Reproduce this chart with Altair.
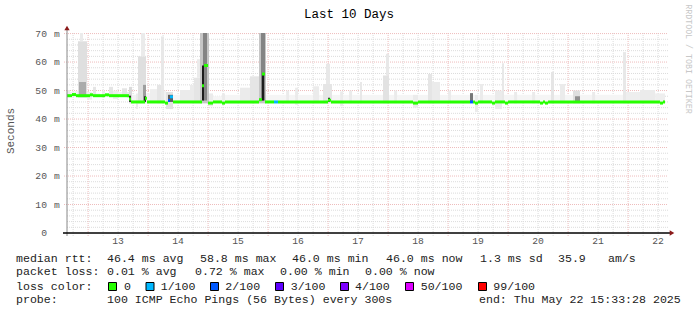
import altair as alt
import pandas as pd

# ---------------- data (time in days; 13.0 = 13 May 00:00) ----------------
T_START, T_END = 12.648, 22.648
T_LAST = 22.615

# median rtt segments (start time, value in ms, loss class)
med_start = [12.648, 12.731, 12.798, 13.031, 13.081, 13.281, 13.348, 13.681, 13.715, 13.948,
             13.981, 14.281, 14.331, 14.365, 14.415, 14.898, 14.931, 14.998, 15.081, 15.231,
             15.281, 15.848, 15.898, 15.948, 16.098, 16.165, 16.998, 17.048, 18.415, 18.498,
             19.365, 19.415, 19.448, 19.498, 19.731, 19.781, 19.948, 19.998, 20.531, 20.581,
             20.615, 20.665, 22.531, 22.581]
med_value = [48.2, 48.6, 48.2, 48.5, 48.2, 48.5, 48.2, 47.0, 46.0, 47.3,
             46.0, 45.6, 46.5, 47.8, 46.0, 51.7, 58.8, 45.6, 46.0, 45.6,
             46.0, 46.8, 55.8, 46.0, 46.0, 46.0, 46.6, 46.0, 45.6, 46.0,
             46.0, 46.0, 45.6, 46.0, 45.6, 46.0, 45.6, 46.0, 45.6, 46.0,
             45.6, 46.0, 45.6, 46.0]
med_loss = ["0", "0", "0", "0", "0", "0", "0", "0", "0", "0",
            "0", "0", "2/100", "1/100", "0", "0", "0", "0", "0", "0",
            "0", "0", "0", "0", "1/100", "0", "0", "0", "0", "0",
            "2/100", "0", "0", "0", "0", "0", "0", "0", "0", "0",
            "0", "0", "0", "0"]

# smoke columns (start, end, low ms, high ms, ping density)
smoke_start = [12.648, 12.698, 12.781, 12.831, 12.865, 12.848, 12.981, 13.081, 13.131, 13.231,
               13.348, 13.415, 13.498, 13.565, 13.648, 13.681, 13.681, 13.731, 13.798, 13.831,
               13.881, 13.915, 13.931, 13.965, 14.031, 14.148, 14.215, 14.265, 14.298, 14.331,
               14.415, 14.531, 14.698, 14.765, 14.815, 14.865, 14.915, 14.898, 15.015, 15.081,
               15.231, 15.281, 15.531, 15.698, 15.848, 15.881, 15.898, 15.965, 16.300, 16.350,
               16.450, 16.500, 16.750, 16.850, 16.915, 16.965, 16.998, 17.065, 17.200, 17.250,
               17.350, 17.400, 17.531, 17.565, 17.915, 17.965, 18.015, 18.100, 18.150, 18.415,
               18.498, 18.665, 18.731, 18.865, 19.000, 19.050, 19.365, 19.415, 19.448, 19.498,
               19.531, 19.581, 19.781, 19.898, 19.931, 20.100, 20.400, 20.715, 20.765, 20.865,
               20.948, 21.081, 21.115, 21.198, 21.400, 21.915, 21.965, 22.198, 22.450]
smoke_end = [12.698, 12.781, 12.831, 12.981, 12.915, 12.965, 13.065, 13.131, 13.198, 13.281,
             13.415, 13.498, 13.565, 13.648, 13.681, 13.731, 13.715, 13.798, 13.831, 13.965,
             13.948, 13.965, 13.965, 14.031, 14.148, 14.215, 14.265, 14.298, 14.415, 14.415,
             14.531, 14.698, 14.765, 14.865, 14.865, 15.015, 14.981, 14.931, 15.081, 15.231,
             15.281, 15.531, 15.698, 15.848, 15.965, 15.948, 15.931, 16.300, 16.350, 16.450,
             16.500, 16.750, 16.850, 16.915, 17.065, 17.031, 17.031, 17.200, 17.250, 17.350,
             17.400, 17.531, 17.565, 17.915, 18.015, 18.015, 18.100, 18.150, 18.415, 18.498,
             18.665, 18.731, 18.865, 19.000, 19.050, 19.365, 19.415, 19.448, 19.498, 19.531,
             19.581, 19.781, 19.898, 19.931, 20.715, 20.150, 20.450, 20.765, 20.865, 20.948,
             21.081, 21.198, 21.198, 21.915, 21.450, 21.965, 22.198, 22.450, 22.615]
smoke_low = [47.6, 47.8, 47.8, 47.5, 67.3, 47.8, 46.8, 47.8, 47.8, 47.8,
             47.8, 47.0, 47.8, 47.8, 47.5, 45.5, 46.0, 45.5, 43.5, 45.5,
             62.0, 46.0, 46.0, 45.5, 45.5, 45.5, 45.5, 45.5, 43.5, 46.0,
             45.5, 45.5, 45.5, 45.5, 54.5, 45.5, 46.5, 46.5, 44.5, 45.5,
             45.0, 45.5, 45.5, 45.5, 45.5, 46.5, 46.5, 45.5, 45.5, 45.5,
             45.0, 45.5, 45.5, 45.5, 45.5, 52.3, 46.0, 45.5, 44.5, 45.5,
             45.5, 45.5, 45.5, 45.5, 45.5, 55.3, 45.5, 45.5, 45.5, 44.0,
             45.5, 45.5, 45.5, 45.5, 45.5, 45.5, 46.0, 45.5, 42.5, 45.5,
             45.5, 45.5, 43.5, 45.5, 45.5, 45.5, 45.5, 45.5, 45.5, 45.5,
             45.5, 45.5, 46.0, 45.5, 45.5, 45.5, 45.5, 45.5, 45.5]
smoke_high = [50.2, 49.5, 49.8, 67.3, 70.2, 53.0, 49.5, 51.3, 49.0, 50.0,
              51.3, 50.0, 49.5, 50.8, 49.5, 51.3, 48.2, 48.5, 49.0, 62.0,
              70.2, 52.0, 48.0, 49.0, 50.5, 52.0, 69.0, 50.0, 49.5, 48.5,
              48.5, 50.2, 52.0, 54.5, 61.0, 70.2, 70.2, 58.8, 49.0, 48.0,
              49.0, 48.5, 51.0, 55.0, 70.2, 70.2, 55.8, 48.5, 50.0, 48.5,
              51.0, 48.5, 51.5, 48.5, 52.3, 59.4, 47.5, 48.5, 49.7, 48.5,
              50.0, 48.5, 53.0, 48.5, 55.3, 62.9, 48.5, 50.0, 48.5, 48.5,
              48.5, 55.8, 53.0, 48.5, 50.0, 48.5, 49.1, 48.5, 48.5, 48.5,
              52.3, 48.5, 50.0, 59.6, 48.5, 49.5, 49.5, 56.5, 48.5, 52.3,
              48.5, 50.0, 48.0, 48.5, 49.5, 63.5, 49.5, 50.2, 49.0]
smoke_density = [0.07, 0.04, 0.05, 0.11, 0.07, 0.30, 0.06, 0.09, 0.04, 0.07,
                 0.09, 0.06, 0.04, 0.09, 0.07, 0.13, 0.80, 0.04, 0.07, 0.11,
                 0.07, 0.35, 0.85, 0.04, 0.06, 0.09, 0.08, 0.05, 0.10, 0.60,
                 0.035, 0.07, 0.07, 0.09, 0.07, 0.20, 0.45, 0.90, 0.07, 0.035,
                 0.07, 0.035, 0.07, 0.09, 0.20, 0.45, 0.90, 0.035, 0.07, 0.035,
                 0.07, 0.035, 0.07, 0.035, 0.09, 0.08, 0.80, 0.035, 0.07, 0.035,
                 0.07, 0.035, 0.08, 0.035, 0.10, 0.08, 0.035, 0.07, 0.035, 0.07,
                 0.035, 0.09, 0.07, 0.035, 0.07, 0.035, 0.50, 0.035, 0.07, 0.035,
                 0.07, 0.035, 0.07, 0.08, 0.035, 0.07, 0.07, 0.09, 0.035, 0.07,
                 0.035, 0.11, 0.40, 0.035, 0.07, 0.08, 0.06, 0.07, 0.06]

loss_labels = ["0", "1/100", "2/100", "3/100", "4/100", "50/100", "99/100"]
loss_colors = ["#26ff00", "#00b8ff", "#0059ff", "#5e00ff", "#7e00ff", "#dd00ff", "#ff0000"]

day_labels = ["13", "14", "15", "16", "17", "18", "19", "20", "21", "22"]
y_ticks = [0, 10, 20, 30, 40, 50, 60, 70]

title_text = "Last 10 Days"
y_title = "Seconds"
watermark = "RRDTOOL / TOBI OETIKER"
rtt_stats = ["median rtt:", "46.4 ms avg", "58.8 ms max", "46.0 ms min", "46.0 ms now",
             "1.3 ms sd", "35.9", "am/s"]
loss_stats = ["packet loss:", "0.01 % avg", "0.72 % max", "0.00 % min", "0.00 % now"]
loss_title = "loss color:"
probe_stats = ["probe:", "100 ICMP Echo Pings (56 Bytes) every 300s",
               "end: Thu May 22 15:33:28 2025"]

assert len({len(smoke_start), len(smoke_end), len(smoke_low), len(smoke_high), len(smoke_density)}) == 1
assert len({len(med_start), len(med_value), len(med_loss)}) == 1

# ---------------- layout ----------------
W, H = 600, 200
PAD_L, PAD_T = 67, 33
FONT = "Liberation Mono"

xs = alt.Scale(domain=[T_START, T_END], nice=False, zero=False)
ys = alt.Scale(domain=[0, 70.2], nice=False, zero=False)

one = pd.DataFrame({"a": [0]})

def txt(s, ax, ay, size=11.6, color="#222222", align="left", angle=0):
    return alt.Chart(one).mark_text(
        font=FONT, fontSize=size, color=color, align=align, baseline="middle", angle=angle
    ).encode(x=alt.value(ax - PAD_L), y=alt.value(ay - PAD_T), text=alt.value(s))

layers = []

# grid
minor_h = [v for v in range(2, 71, 2) if v % 10]
major_h = [10, 20, 30, 40, 50, 60, 70]
minor_v = [d + q for d in range(12, 23) for q in (0.25, 0.5, 0.75) if T_START < d + q < T_END]
major_v = list(range(13, 23))

GRID = "#dcdcdc"
MGRID = "#eebcbc"
layers.append(alt.Chart(pd.DataFrame({"v": minor_h})).mark_rule(
    stroke=GRID, strokeDash=[1, 1], strokeWidth=1).encode(
    y=alt.Y("v:Q", scale=ys, axis=None), x=alt.value(0), x2=alt.value(601)))
layers.append(alt.Chart(pd.DataFrame({"t": minor_v})).mark_rule(
    stroke=GRID, strokeDash=[1, 1], strokeWidth=1).encode(
    x=alt.X("t:Q", scale=xs, axis=None), y=alt.value(0), y2=alt.value(203)))
layers.append(alt.Chart(pd.DataFrame({"v": major_h})).mark_rule(
    stroke=MGRID, strokeDash=[1, 1], strokeWidth=1).encode(
    y=alt.Y("v:Q", scale=ys, axis=None), x=alt.value(-3), x2=alt.value(601)))
layers.append(alt.Chart(pd.DataFrame({"t": major_v})).mark_rule(
    stroke=MGRID, strokeDash=[1, 1], strokeWidth=1).encode(
    x=alt.X("t:Q", scale=xs, axis=None), y=alt.value(0), y2=alt.value(204)))

# smoke
smoke = pd.DataFrame({"t0": smoke_start, "t1": smoke_end, "lo": smoke_low,
                      "hi": smoke_high, "d": smoke_density})
layers.append(alt.Chart(smoke).mark_rect().encode(
    x=alt.X("t0:Q", scale=xs, axis=None), x2="t1:Q",
    y=alt.Y("lo:Q", scale=ys, axis=None), y2="hi:Q",
    fill=alt.Fill("d:Q", scale=alt.Scale(domain=[0, 1], range=["#ffffff", "#000000"]), legend=None)))

# median line coloured by loss
med = pd.DataFrame({"t0": med_start, "t1": med_start[1:] + [T_LAST],
                    "v": med_value, "loss": med_loss})
layers.append(alt.Chart(med).mark_rule(strokeWidth=3, strokeCap="butt").encode(
    x=alt.X("t0:Q", scale=xs, axis=None), x2="t1:Q",
    y=alt.Y("v:Q", scale=ys, axis=None),
    stroke=alt.Stroke("loss:N", scale=alt.Scale(domain=loss_labels, range=loss_colors), legend=None)))

# axes lines and arrows
layers.append(alt.Chart(one).mark_rule(stroke="#888888", strokeWidth=1).encode(
    x=alt.value(0), y=alt.value(-3), y2=alt.value(203)))
layers.append(alt.Chart(one).mark_rule(stroke="#000000", strokeWidth=1.5).encode(
    x=alt.value(-4), x2=alt.value(604), y=alt.value(200)))
layers.append(alt.Chart(one).mark_point(shape="triangle-up", filled=True, size=28,
                                         color="#8b1a1a", opacity=1).encode(
    x=alt.value(0), y=alt.value(-5)))
layers.append(alt.Chart(one).mark_point(shape="triangle-right", filled=True, size=28,
                                         color="#8b1a1a", opacity=1).encode(
    x=alt.value(605), y=alt.value(200)))

# y tick labels
ylab = pd.DataFrame({"v": y_ticks, "lab": [str(v) for v in y_ticks],
                     "m": ["" if v == 0 else "m" for v in y_ticks]})
layers.append(alt.Chart(ylab).mark_text(font=FONT, fontSize=9.7, color="#555555",
                                        align="right", baseline="middle").encode(
    y=alt.Y("v:Q", scale=ys, axis=None), x=alt.value(-20), text="lab:N"))
layers.append(alt.Chart(ylab).mark_text(font=FONT, fontSize=9.7, color="#555555",
                                        align="center", baseline="middle").encode(
    y=alt.Y("v:Q", scale=ys, axis=None), x=alt.value(-10), text="m:N"))

# x tick labels (centred on each day)
xlab = pd.DataFrame({"c": [int(d) + 0.5 for d in day_labels], "lab": day_labels})
layers.append(alt.Chart(xlab).mark_text(font=FONT, fontSize=9.7, color="#555555",
                                        align="center", baseline="middle").encode(
    x=alt.X("c:Q", scale=xs, axis=None), y=alt.value(208), text="lab:N"))

# titles
layers.append(txt(title_text, 349, 14, size=12.5, color="#000000", align="center"))
layers.append(txt(y_title, 11, 131, size=11, color="#555555", align="center", angle=270))
layers.append(txt(watermark, 688, 59, size=8.3, color="#c8c8c8", align="center", angle=90))

# legend rows
for s, px in zip(rtt_stats, [16, 107, 200, 292, 386, 480, 558, 608]):
    layers.append(txt(s, px, 258.5))
for s, px in zip(loss_stats, [16, 107, 195, 280, 365]):
    layers.append(txt(s, px, 272.3))
layers.append(txt(loss_title, 16, 286.5))
for lab, col, sx, lx in zip(loss_labels, loss_colors,
                            [108, 145.5, 210, 275, 340, 405, 478],
                            [124, 160.7, 225.3, 290.7, 355, 420.7, 493.3]):
    layers.append(alt.Chart(one).mark_rect(stroke="#000000", strokeWidth=1).encode(
        x=alt.value(sx - PAD_L + 0.5), x2=alt.value(sx - PAD_L + 8.5),
        y=alt.value(282.5 - PAD_T), y2=alt.value(290.5 - PAD_T), fill=alt.value(col)))
    layers.append(txt(lab, lx, 286.5))
for s, px in zip(probe_stats, [16, 107, 479]):
    layers.append(txt(s, px, 300.3))

chart = alt.layer(*layers).properties(
    width=W, height=H,
    padding={"left": PAD_L, "top": PAD_T, "right": 697 - PAD_L - W, "bottom": 315 - PAD_T - H},
    autosize=alt.AutoSizeParams(type="none"),
    background="#ffffff",
).configure_view(stroke=None)

chart.save("out.html", embed_options={"renderer": "svg", "actions": False})
